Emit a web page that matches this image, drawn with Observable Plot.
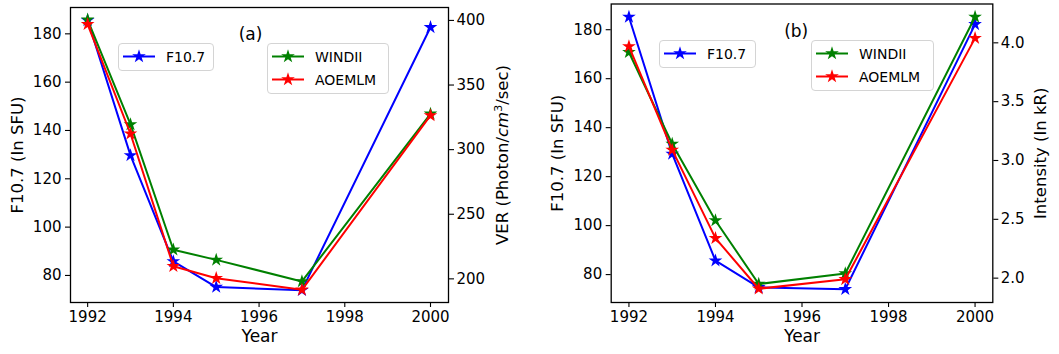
<!DOCTYPE html>
<html><head><meta charset="utf-8">
<script src="https://cdn.jsdelivr.net/npm/d3@7"></script>
<script src="https://cdn.jsdelivr.net/npm/@observablehq/plot@0.6"></script>
<style>
body{margin:0;background:#fff;}
#wrap{position:relative;width:1059px;height:354px;display:flex;font-family:"DejaVu Sans",sans-serif;}
.panel{position:relative;height:354px;}
.legend{position:absolute;border:1px solid #d4d4d4;border-radius:4px;background:rgba(255,255,255,0.8);box-sizing:border-box;}
.legend svg{position:absolute;left:-1px;top:-1px;overflow:visible;}
</style></head><body><div id="wrap"></div>
<script>
// ---- data ----
const years = [1992, 1993, 1994, 1995, 1997, 2000];
const xTicks = [1992, 1994, 1996, 1998, 2000];
const leftTicks = [80, 100, 120, 140, 160, 180];
// panel (a): F10.7 (SFU) left axis, VER (Photon/cm3/sec) right axis
const f107_a   = [185.6, 129.7, 85.8, 75.2, 73.9, 182.7];
const windii_a = [400.5, 319.5, 222.5, 214.7, 198.0, 327.7];
const aoemlm_a = [397.0, 312.3, 209.8, 200.5, 191.5, 326.5];
const rightTicks_a = [200, 250, 300, 350, 400];
// panel (b): F10.7 (SFU) left axis, Intensity (kR) right axis
const f107_b   = [185.2, 129.3, 85.7, 74.8, 74.0, 182.2];
const windii_b = [3.92, 3.14, 2.49, 1.95, 2.04, 4.22];
const aoemlm_b = [3.97, 3.09, 2.34, 1.91, 1.99, 4.04];
const rightTicks_b = [2.0, 2.5, 3.0, 3.5, 4.0];
const seriesNames = ["F10.7", "WINDII", "AOEMLM"];
const colors = ["#0000ff", "#008000", "#ff0000"];

const R = 4.3;

function legend(host, box, items) {
  const div = document.createElement("div");
  div.className = "legend";
  Object.assign(div.style, {left: box.left + "px", top: box.top + "px", width: box.width + "px", height: box.height + "px"});
  const svg = d3.create("svg").attr("width", box.width).attr("height", box.height);
  items.forEach((it, i) => {
    const y = 13.5 + i * 23;
    svg.append("line").attr("x1", 5).attr("x2", 37).attr("y1", y).attr("y2", y)
      .attr("stroke", it.color).attr("stroke-width", 2);
    svg.append("path").attr("d", d3.symbol(d3.symbolStar, R * R * Math.PI)())
      .attr("transform", `translate(21,${y})`).attr("fill", it.color);
    svg.append("text").attr("x", 48).attr("y", y).attr("dy", "0.36em")
      .attr("font-size", 14).attr("font-family", "DejaVu Sans").attr("fill", "#000").text(it.label);
  });
  div.appendChild(svg.node());
  host.appendChild(div);
}

function panel(cfg) {
  const {width, ml, mr, mt, mb, xDomain, yDomain, rDomain, f107, windii, aoemlm, rightTicks, rightFmt,
         tag, tagDx, tagDy, rightLabel, leftDx, rightDx} = cfg;
  const toLeft = r => yDomain[0] + (r - rDomain[0]) * (yDomain[1] - yDomain[0]) / (rDomain[1] - rDomain[0]);
  const fromLeft = v => rDomain[0] + (v - yDomain[0]) * (rDomain[1] - rDomain[0]) / (yDomain[1] - yDomain[0]);
  const rows = years.map((year, i) => ({year, f107: f107[i], windii: toLeft(windii[i]), aoemlm: toLeft(aoemlm[i])}));
  const keys = ["f107", "windii", "aoemlm"];
  const seriesMarks = keys.flatMap((k, i) => [
    Plot.line(rows, {x: "year", y: k, stroke: colors[i], strokeWidth: 2}),
    Plot.dot(rows, {x: "year", y: k, symbol: "star", fill: colors[i], stroke: "none", r: R})
  ]);
  const svg = Plot.plot({
    width, height: 354, marginLeft: ml, marginRight: mr, marginTop: mt, marginBottom: mb,
    style: {fontFamily: "DejaVu Sans", fontSize: "15px", color: "#000", background: "#fff"},
    x: {domain: xDomain},
    y: {domain: yDomain},
    marks: [
      Plot.axisX({ticks: xTicks, tickFormat: d => String(d), tickSize: 5, tickPadding: 4, label: null, strokeWidth: 1.1}),
      Plot.axisY({ticks: leftTicks, tickSize: 5, tickPadding: 4, label: null, strokeWidth: 1.1}),
      Plot.axisY({anchor: "right", ticks: rightTicks.map(toLeft), tickFormat: v => rightFmt(fromLeft(v)),
                  tickSize: 5, tickPadding: 3, label: null, strokeWidth: 1.1}),
      ...seriesMarks,
      Plot.frame({stroke: "#000", strokeWidth: 1.3}),
      Plot.text([tag], {text: d => d, frameAnchor: "top-left", textAnchor: "middle", dx: tagDx, dy: tagDy, fontSize: 17}),
      Plot.text(["F10.7 (In SFU)"], {text: d => d, frameAnchor: "left", textAnchor: "middle", dx: leftDx, rotate: -90, fontSize: 16.5}),
      Plot.text([rightLabel], {text: d => d, frameAnchor: "right", textAnchor: "middle", dx: rightDx, rotate: -90, fontSize: 16.5}),
      Plot.text(["Year"], {text: d => d, frameAnchor: "bottom", textAnchor: "middle", dy: 39, fontSize: 17})
    ]
  });
  return svg;
}

const wrap = document.getElementById("wrap");

// Panel (a)
const pa = document.createElement("div"); pa.className = "panel"; pa.style.width = "529px"; wrap.appendChild(pa);
const svgA = panel({
  width: 529, ml: 70, mr: 81, mt: 7, mb: 52,
  xDomain: [1991.6, 2000.42], yDomain: [68.8, 190.9], rDomain: [181.7, 410],
  f107: f107_a, windii: windii_a, aoemlm: aoemlm_a,
  rightTicks: rightTicks_a, rightFmt: v => String(Math.round(v)),
  tag: "(a)", tagDx: 180, tagDy: 20, rightLabel: "VER (Photon/cm³/sec)", leftDx: -53, rightDx: 54
});
pa.appendChild(svgA);
d3.select(svgA).selectAll("text").filter(function () { return this.textContent === "VER (Photon/cm³/sec)"; })
  .each(function () {
    const t = d3.select(this);
    t.text(null);
    t.append("tspan").text("VER (Photon/");
    t.append("tspan").attr("font-style", "italic").text("cm");
    t.append("tspan").attr("dy", -6).attr("font-size", 11).text("3");
    t.append("tspan").attr("dy", 6).text("/sec)");
  });
legend(pa, {left: 118, top: 43, width: 96, height: 28}, [{label: seriesNames[0], color: colors[0]}]);
legend(pa, {left: 267, top: 43, width: 122, height: 51}, [{label: seriesNames[1], color: colors[1]}, {label: seriesNames[2], color: colors[2]}]);

// Panel (b)
const pb = document.createElement("div"); pb.className = "panel"; pb.style.width = "530px"; wrap.appendChild(pb);
const svgB = panel({
  width: 530, ml: 81.7, mr: 66.7, mt: 3.5, mb: 52,
  xDomain: [1991.59, 2000.41], yDomain: [68.6, 190.5], rDomain: [1.793, 4.33],
  f107: f107_b, windii: windii_b, aoemlm: aoemlm_b,
  rightTicks: rightTicks_b, rightFmt: v => (Math.round(v * 10) / 10).toFixed(1),
  tag: "(b)", tagDx: 185, tagDy: 21, rightLabel: "Intensity (In kR)", leftDx: -53, rightDx: 48
});
pb.appendChild(svgB);
legend(pb, {left: 130, top: 40, width: 97, height: 28}, [{label: seriesNames[0], color: colors[0]}]);
legend(pb, {left: 282, top: 40, width: 123, height: 51}, [{label: seriesNames[1], color: colors[1]}, {label: seriesNames[2], color: colors[2]}]);
</script></body></html>
